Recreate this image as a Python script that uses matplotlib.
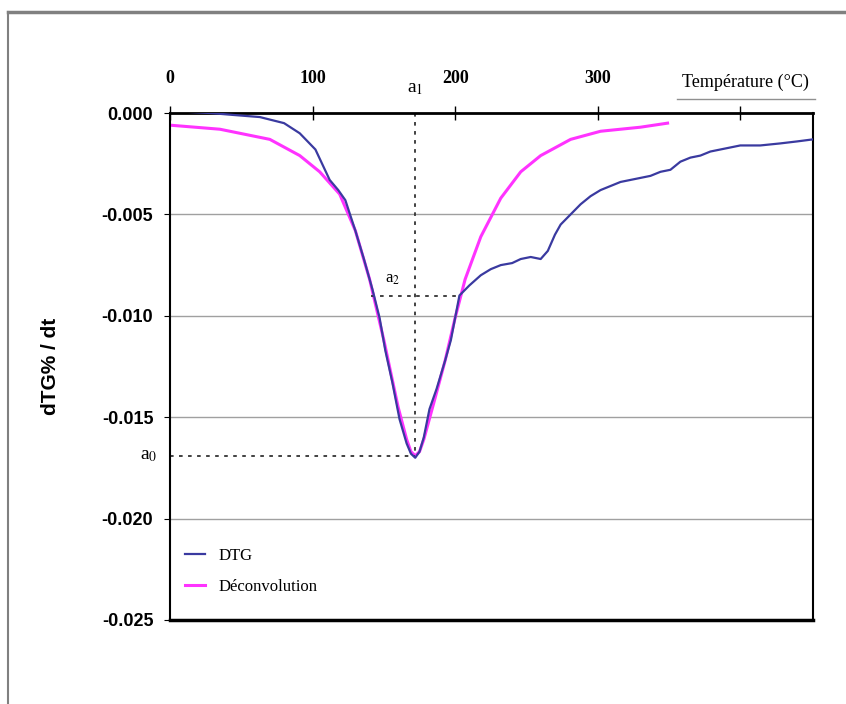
import matplotlib.pyplot as plt
from matplotlib.lines import Line2D

plt.rcParams['mathtext.fontset'] = 'stix'

# valeurs
temp_dtg = [0, 28, 45, 63, 80, 91, 102, 112, 118, 123, 130, 136, 142, 147, 151, 156, 161, 166, 169, 172, 175,
            178, 182, 187, 193, 197, 200, 203, 210, 218, 225, 232, 240, 246, 253, 260, 265, 270, 274,
            281, 288, 295, 302, 309, 316, 323, 330, 337, 344, 351, 358, 365, 372, 379, 386, 393, 400,
            414, 428, 440, 451]
dtg = [0.0001, 0.0, -0.0001, -0.0002, -0.0005, -0.0010, -0.0018, -0.0033, -0.0038, -0.0043, -0.0058,
       -0.0072, -0.0087, -0.0101, -0.0117, -0.0133, -0.0151, -0.0163, -0.0168, -0.0170, -0.0167, -0.0160,
       -0.0146, -0.0136, -0.0122, -0.0112, -0.0101, -0.0090, -0.0085, -0.0080, -0.0077, -0.0075,
       -0.0074, -0.0072, -0.0071, -0.0072, -0.0068, -0.0060, -0.0055, -0.0050, -0.0045, -0.0041,
       -0.0038, -0.0036, -0.0034, -0.0033, -0.0032, -0.0031, -0.0029, -0.0028, -0.0024, -0.0022,
       -0.0021, -0.0019, -0.0018, -0.0017, -0.0016, -0.0016, -0.0015, -0.0014, -0.0013]

temp_dec = [0, 35, 70, 91, 105, 119, 130, 140, 150, 160, 166, 169, 172, 175, 178, 185, 193, 200, 207, 218,
            232, 246, 260, 281, 302, 330, 349]
deconv = [-0.0006, -0.0008, -0.0013, -0.0021, -0.0029, -0.0040, -0.0058, -0.0082, -0.0112,
          -0.0145, -0.0161, -0.0167, -0.0169, -0.0167, -0.0161, -0.0143, -0.0122, -0.0101, -0.0082, -0.0061,
          -0.0042, -0.0029, -0.0021, -0.0013, -0.0009, -0.0007, -0.0005]

a0_t, a0_v = 172, -0.0169
a2_t1, a2_t2, a2_v = 141, 203, -0.0090

x_ticks = [0, 100, 200, 300, 400]
x_labels = ['0', '100', '200', '300', '']
y_ticks = [0.0, -0.005, -0.010, -0.015, -0.020, -0.025]
y_labels = ['0.000', '-0.005', '-0.010', '-0.015', '-0.020', '-0.025']

sans = ['Liberation Sans', 'DejaVu Sans']
serif = ['Liberation Serif', 'DejaVu Serif']

fig = plt.figure(figsize=(8.46, 7.04), dpi=100)
ax = fig.add_axes([170/846, 1-620/704, 643/846, 507/704])

# cadre extérieur
fig.add_artist(Line2D([8/846, 8/846], [0, 1-12/704], color='#808080', lw=1.5, transform=fig.transFigure))
fig.add_artist(Line2D([8/846, 1], [1-12/704, 1-12/704], color='#808080', lw=2.5, transform=fig.transFigure))

for y in y_ticks[1:-1]:
    ax.axhline(y, color='#a0a0a0', lw=1, zorder=0)

ax.plot(temp_dec, deconv, color='#ff33ff', lw=2.2, zorder=2, label='Déconvolution')
ax.plot(temp_dtg, dtg, color='#3a3aa0', lw=1.6, zorder=3, label='DTG')

# annotations
ax.plot([a0_t, a0_t], [0, a0_v], ls=(0, (2, 3)), color='#333333', lw=1.3)
ax.plot([0, a0_t], [a0_v, a0_v], ls=(0, (2, 3)), color='#333333', lw=1.3)
ax.plot([a2_t1, a2_t2], [a2_v, a2_v], ls=(0, (2, 3)), color='#333333', lw=1.3)
ax.text(a0_t, 0.0008, 'a$_1$', ha='center', va='bottom', fontsize=14, family=serif)
ax.text(-9, a0_v, 'a$_0$', ha='right', va='center', fontsize=14, family=serif)
ax.text(156, a2_v + 0.0004, 'a$_2$', ha='center', va='bottom', fontsize=12, family=serif)

ax.set_xlim(0, 451)
ax.set_ylim(-0.025, 0.0)
ax.xaxis.tick_top()
ax.set_xticks(x_ticks)
ax.set_xticklabels(x_labels, fontsize=13, fontweight='bold', family=serif)
ax.set_yticks(y_ticks)
ax.set_yticklabels(y_labels, fontsize=13, fontweight='bold', family=sans)
ax.tick_params(axis='x', direction='inout', length=10, pad=14, width=1)
ax.tick_params(axis='y', direction='out', length=4, pad=8)
for s in ax.spines.values():
    s.set_linewidth(1.5)
ax.spines['top'].set_linewidth(2)
ax.spines['bottom'].set_linewidth(2.5)

ax.set_ylabel('dTG% / dt', fontsize=15, fontweight='bold', family=sans, labelpad=30)
fig.text(745/846, 1-82/704, 'Température (°C)', ha='center', va='center', fontsize=13, family=serif)
fig.add_artist(Line2D([677/846, 815/846], [1-99/704, 1-99/704], color='#909090', lw=1, transform=fig.transFigure))

h, l = ax.get_legend_handles_labels()
ax.legend(h[::-1], l[::-1], loc='lower left', bbox_to_anchor=(0.0, 0.02), frameon=False,
          prop={'family': serif, 'size': 12}, handlelength=1.2, labelspacing=0.9)

fig.savefig('out.png', dpi=100)
